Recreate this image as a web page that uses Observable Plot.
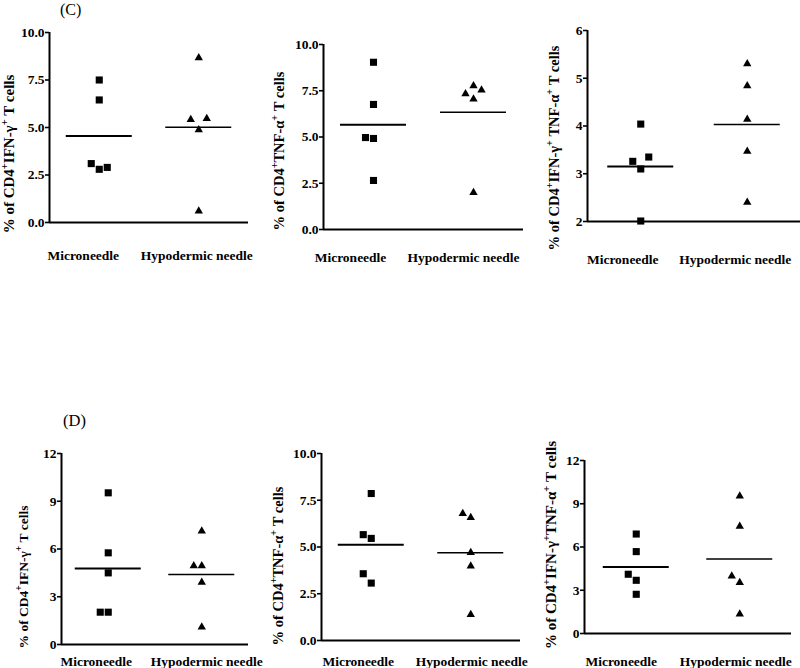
<!DOCTYPE html>
<html><head><meta charset="utf-8">
<script src="https://cdn.jsdelivr.net/npm/d3@7"></script>
<script src="https://cdn.jsdelivr.net/npm/@observablehq/plot@0.6"></script>
<style>
body{margin:0;background:#fff;}
#fig{position:relative;width:800px;height:668px;overflow:hidden;background:#fff;font-family:"Liberation Serif","Times New Roman",serif;}
.panel{position:absolute;}
#tags{position:absolute;left:0;top:0;pointer-events:none;}
</style></head><body><div id="fig"></div>
<script>
// ---------- data ----------
const groups = ["Microneedle", "Hypodermic needle"];

// Panel (C)
const c1Micro = [7.5, 6.45, 2.8, 3.1, 2.9];
const c1Hypo  = [8.67, 4.88, 5.42, 5.47, 0.6];
const c2Micro = [9.04, 6.76, 4.92, 4.97, 2.65];
const c2Hypo  = [7.76, 7.05, 7.33, 7.53, 2.0];
const c3Micro = [4.04, 3.10, 3.26, 3.35, 2.01];
const c3Hypo  = [5.30, 4.84, 4.14, 3.47, 2.40];

// Panel (D)
const d1Micro = [9.53, 5.76, 4.50, 2.03, 2.03];
const d1Hypo  = [7.12, 3.90, 4.94, 4.94, 1.09];
const d2Micro = [7.86, 5.46, 5.66, 3.07, 3.57];
const d2Hypo  = [6.57, 6.79, 4.70, 3.98, 1.39];
const d3Micro = [6.90, 5.68, 3.69, 4.11, 2.72];
const d3Hypo  = [9.53, 7.43, 3.53, 3.99, 1.34];

// tick values
const ticks0to10 = [0, 2.5, 5, 7.5, 10];
const ticks2to6  = [2, 3, 4, 5, 6];
const ticks0to12 = [0, 3, 6, 9, 12];

// axis titles ("^+" = superscript plus)
const titleIFN    = "% of CD4^+IFN-γ^+ T cells";
const titleTNF    = "% of CD4^+TNF-α^+ T cells";
const titleBothC  = "% of CD4^+IFN-γ^+ TNF-α^+ T cells";
const titleBothD  = "% of CD4^+IFN-γ^+TNF-α^+ T cells";

const panelTags = ["(C)", "(D)"];

// ---------- layout ----------
const FONT = '"Liberation Serif","Times New Roman",serif';
const panels = [
  {left:0,   top:0,   width:260, height:270, ml:49, mt:32, mb:48, mr:12, domain:[0,10], ticks:ticks0to10, fmt:d3.format(".1f"), xPad:28, lx:[-16,-2],  title:titleIFN,   tx:14, ty:154, ts:15,   micro:c1Micro, hypo:c1Hypo},
  {left:262, top:0,   width:265, height:270, ml:61, mt:44, mb:41, mr:4,  domain:[0,10], ticks:ticks0to10, fmt:d3.format(".1f"), xPad:23, lx:[-23,-10], title:titleTNF,   tx:22, ty:151, ts:14.5, micro:c2Micro, hypo:c2Hypo},
  {left:530, top:0,   width:270, height:270, ml:57, mt:30, mb:49, mr:0,  domain:[2,6],  ticks:ticks2to6,  fmt:d3.format("d"),   xPad:33, lx:[-18,-12], title:titleBothC, tx:29, ty:148, ts:14.5, micro:c3Micro, hypo:c3Hypo},
  {left:0,   top:400, width:260, height:268, ml:61, mt:53, mb:24, mr:12, domain:[0,12], ticks:ticks0to12, fmt:d3.format("d"),   xPad:12, lx:[-12,5],   title:titleIFN,   tx:28, ty:177, ts:13.5, micro:d1Micro, hypo:d1Hypo},
  {left:262, top:400, width:265, height:268, ml:59, mt:53, mb:28, mr:7,  domain:[0,10], ticks:ticks0to10, fmt:d3.format(".1f"), xPad:16, lx:[-13,1],   title:titleTNF,   tx:21, ty:166, ts:14.5, micro:d2Micro, hypo:d2Hypo},
  {left:530, top:400, width:270, height:268, ml:54, mt:60, mb:35, mr:9,  domain:[0,12], ticks:ticks0to12, fmt:d3.format("d"),   xPad:23, lx:[-15,-4],  title:titleBothD, tx:26, ty:145, ts:15,   micro:d3Micro, hypo:d3Hypo}
];

const fig = document.getElementById("fig");

function makePanel(cfg) {
  const plotH = cfg.height - cfg.mt - cfg.mb;
  const plotW = cfg.width - cfg.ml - cfg.mr;
  const [y0, y1] = cfg.domain;
  const pxPerY = plotH / (y1 - y0);
  const pxPerX = plotW / 2;
  // scatter-dot spreading: points closer than ~12.5px vertically go to a side column
  const rows = [];
  [cfg.micro, cfg.hypo].forEach((vals, gi) => {
    const placed = [];
    vals.forEach(v => {
      let slot = 0;
      for (const s of [0, -1, 1, -2, 2]) {
        if (!placed.some(p => p.slot === s && Math.abs(p.v - v) * pxPerY < 12.5)) { slot = s; break; }
      }
      placed.push({v, slot});
      rows.push({group: gi, value: v, x: gi + slot * 8 / pxPerX});
    });
  });
  const means = [cfg.micro, cfg.hypo].map((vals, gi) => ({group: gi, mean: d3.mean(vals)}));
  const half = 33 / pxPerX;

  const svg = Plot.plot({
    width: cfg.width, height: cfg.height,
    marginLeft: cfg.ml, marginTop: cfg.mt, marginBottom: cfg.mb, marginRight: cfg.mr,
    style: {fontFamily: FONT, fontSize: "13.5px", fontWeight: "bold", color: "black", background: "transparent", overflow: "visible"},
    x: {domain: [-0.5, 1.5]},
    y: {domain: cfg.domain},
    marks: [
      Plot.axisY({ticks: cfg.ticks, tickFormat: cfg.fmt, tickSize: 4, tickPadding: 1, strokeWidth: 1.6, label: null, fill: "black"}),
      Plot.axisX({ticks: [0], tickFormat: i => groups[i], tickSize: 0, tickPadding: cfg.xPad, dx: cfg.lx[0], label: null, fill: "black"}),
      Plot.axisX({ticks: [1], tickFormat: i => groups[i], tickSize: 0, tickPadding: cfg.xPad, dx: cfg.lx[1], label: null, fill: "black"}),
      Plot.ruleY([y0], {stroke: "black", strokeWidth: 2}),
      Plot.ruleX([-0.5], {stroke: "black", strokeWidth: 2}),
      Plot.ruleY(means.filter(d => d.group === 0), {x1: d => d.group - half, x2: d => d.group + half, y: "mean", stroke: "black", strokeWidth: 2}),
      Plot.ruleY(means.filter(d => d.group === 1), {x1: d => d.group - half, x2: d => d.group + half, y: "mean", stroke: "black", strokeWidth: 1.5}),
      Plot.dot(rows.filter(d => d.group === 0), {x: "x", y: "value", symbol: "square", r: 4, fill: "black", stroke: "none"}),
      Plot.dot(rows.filter(d => d.group === 1), {x: "x", y: "value", symbol: "triangle", r: 3.1, fill: "black", stroke: "none"})
    ]
  });

  // y-axis title with superscripts
  const t = d3.select(svg).append("text")
    .attr("transform", `translate(${cfg.tx},${cfg.ty}) rotate(-90)`)
    .attr("text-anchor", "middle")
    .attr("font-family", FONT)
    .attr("font-weight", "bold")
    .attr("font-size", cfg.ts)
    .attr("fill", "black");
  const parts = cfg.title.split("^+");
  const rise = cfg.ts * 0.42;
  parts.forEach((p, i) => {
    const s = t.append("tspan").text(p);
    if (i > 0) s.attr("dy", rise);
    if (i < parts.length - 1) {
      t.append("tspan").attr("dy", -rise).attr("font-size", cfg.ts * 0.7).text("+");
    }
  });

  const wrap = document.createElement("div");
  wrap.className = "panel";
  wrap.style.left = cfg.left + "px";
  wrap.style.top = cfg.top + "px";
  wrap.appendChild(svg);
  fig.appendChild(wrap);
}

panels.forEach(makePanel);

// panel tags
const tags = d3.select(fig).append("svg").attr("id", "tags").attr("width", 800).attr("height", 668);
tags.append("text").attr("x", 60).attr("y", 15).attr("font-family", FONT).attr("font-size", 16).attr("fill", "black").text(panelTags[0]);
tags.append("text").attr("x", 63).attr("y", 426).attr("font-family", FONT).attr("font-size", 16.5).attr("fill", "black").text(panelTags[1]);
</script>
</body></html>
